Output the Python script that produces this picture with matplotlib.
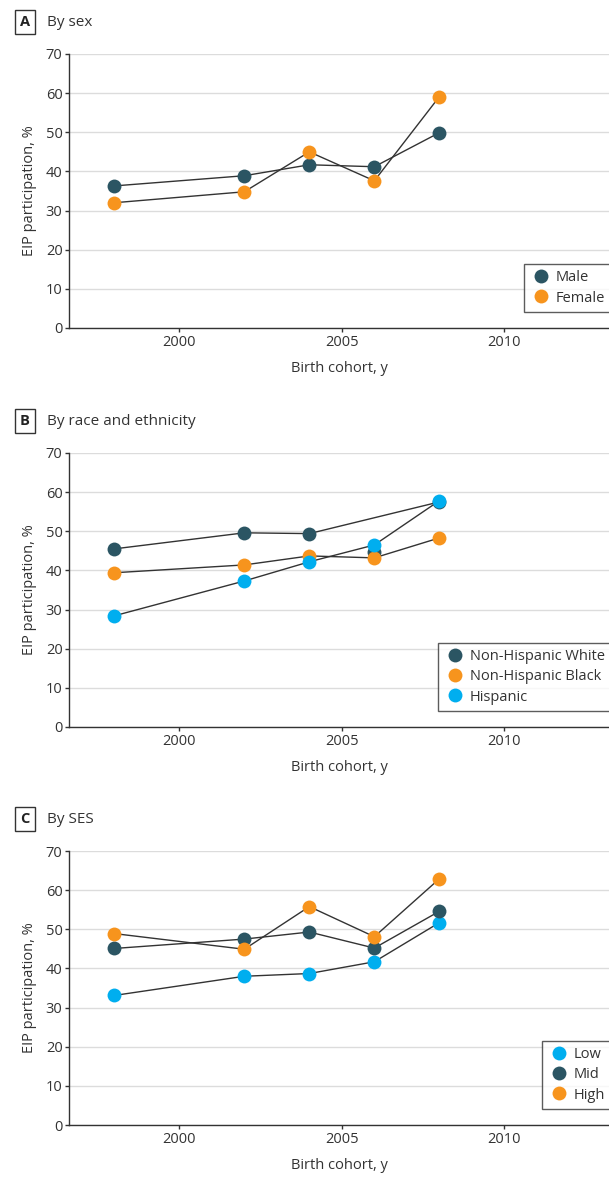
import matplotlib.pyplot as plt
from matplotlib.lines import Line2D

plt.rcParams['font.family'] = ['Open Sans', 'DejaVu Sans']

years = [1998, 2002, 2004, 2006, 2008]

# Panel A - by sex
male = [36.3, 38.9, 41.7, 41.2, 49.9]
female = [32.0, 34.8, 45.0, 37.6, 59.1]

# Panel B - by race and ethnicity
nh_white = [45.5, 49.6, 49.4, 44.6, 57.5]
nh_white_connected = [True, True, True, False, True]  # line skips 2006 in the original
nh_black = [39.4, 41.4, 43.7, 43.2, 48.3]
hispanic = [28.4, 37.3, 42.2, 46.5, 57.8]

# Panel C - by SES
ses_low = [33.1, 38.0, 38.7, 41.7, 51.7]
ses_mid = [45.1, 47.5, 49.3, 45.2, 54.6]
ses_high = [48.9, 44.9, 55.8, 48.1, 62.9]

DARK = '#2b5563'
ORANGE = '#f7941d'
BLUE = '#00aeef'

panels = [
    ('A', 'By sex', [('Male', male, DARK, None), ('Female', female, ORANGE, None)], 0.7218),
    ('B', 'By race and ethnicity', [('Non-Hispanic White', nh_white, DARK, nh_white_connected),
                                    ('Non-Hispanic Black', nh_black, ORANGE, None),
                                    ('Hispanic', hispanic, BLUE, None)], 0.3834),
    ('C', 'By SES', [('Low', ses_low, BLUE, None), ('Mid', ses_mid, DARK, None),
                     ('High', ses_high, ORANGE, None)], 0.0458),
]

fig = plt.figure(figsize=(6.09, 11.79), dpi=100)
H = 0.2324
for letter, title, series, bottom in panels:
    ax = fig.add_axes([0.1141, bottom, 0.8859, H])
    # lines first, markers on top
    for name, vals, color, mask in series:
        if mask is None:
            xs, ys = years, vals
        else:
            xs = [y for y, m in zip(years, mask) if m]
            ys = [v for v, m in zip(vals, mask) if m]
        ax.plot(xs, ys, color='#333333', lw=1.0, zorder=2)
    handles = []
    for name, vals, color, mask in series:
        ax.plot(years, vals, 'o', color=color, ms=10, mec='none', zorder=3)
        handles.append(Line2D([], [], marker='o', ls='none', color=color, ms=10, mec='none', label=name))

    ax.set_xlim(1996.62, 2013.22)
    ax.set_ylim(0, 70)
    ax.set_yticks(range(0, 71, 10))
    ax.set_xticks([2000, 2005, 2010])
    ax.grid(axis='y', color='#dcdcdc', lw=1)
    ax.set_axisbelow(True)
    for s in ['top', 'right']:
        ax.spines[s].set_visible(False)
    for s in ['left', 'bottom']:
        ax.spines[s].set_color('#333333')
        ax.spines[s].set_linewidth(1.0)
    ax.tick_params(length=3, width=1, color='#333333', labelsize=10.5, labelcolor='#333333', pad=2)
    ax.set_xlabel('Birth cohort, y', fontsize=10.5, color='#333333', labelpad=8)
    ax.set_ylabel('EIP participation, %', fontsize=10.5, color='#333333', labelpad=6)

    leg = ax.legend(handles=handles, loc='lower right', bbox_to_anchor=(1.004, 0.058),
                    frameon=True, fancybox=False, fontsize=10.5, handletextpad=0.3,
                    borderpad=0.45, labelspacing=0.35, handlelength=1.4, borderaxespad=0)
    leg.get_frame().set_edgecolor('#333333')
    leg.get_frame().set_linewidth(1.0)
    for t in leg.get_texts():
        t.set_color('#333333')

    top = bottom + H
    fig.text(25 / 609, top + 0.0270, letter, fontsize=10.5, fontweight='bold', ha='center', va='center',
             color='#222222',
             bbox=dict(boxstyle='square,pad=0.35', fc='white', ec='#333333', lw=1.0))
    fig.text(47 / 609, top + 0.0270, title, fontsize=11, ha='left', va='center', color='#333333')

fig.savefig('out.png', dpi=100)
